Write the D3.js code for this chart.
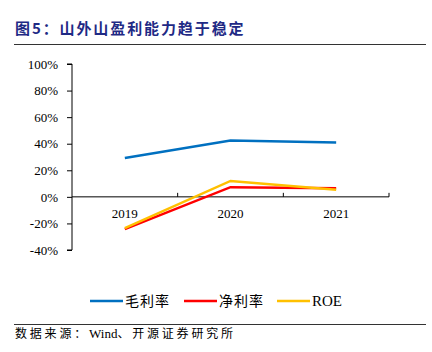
<!DOCTYPE html>
<html><head><meta charset="utf-8">
<script src="https://cdn.jsdelivr.net/npm/d3@7"></script>
<style>body{margin:0;background:#fff;}</style>
</head><body>
<svg id="c" width="432" height="352"></svg>
<script>
const categories = ["2019", "2020", "2021"];
const grossMargin = [29.3, 42.4, 40.9];
const netMargin = [-24.3, 7.3, 6.5];
const roe = [-23.6, 12.0, 5.3];
const yTicks = [-40, -20, 0, 20, 40, 60, 80, 100];
const seriesNames = ["毛利率", "净利率", "ROE"];
const seriesColors = ["#0070c0", "#ff0000", "#ffc000"];

const svg = d3.select("#c");
const serif = "'Liberation Serif','Times New Roman',serif";
const cjk = "'Noto Sans CJK SC',sans-serif";

svg.append("text").attr("x", 15).attr("y", 34)
  .style("font-family", cjk).attr("font-weight", "bold").attr("font-size", 15)
  .attr("letter-spacing", 1.9)
  .attr("fill", "#1f2a85").text("图5：山外山盈利能力趋于稳定");
svg.append("line").attr("x1", 14).attr("x2", 426).attr("y1", 44.5).attr("y2", 44.5)
  .attr("stroke", "#333").attr("stroke-width", 1);

const x = d3.scaleBand().domain(categories).range([72, 389]);
const y = d3.scaleLinear().domain([-40, 100]).range([250, 64]);

// y axis
const yAxis = svg.append("g").attr("transform", "translate(72,0)")
  .call(d3.axisLeft(y).tickValues(yTicks).tickSize(5).tickFormat(d => d + "%"));
yAxis.select(".domain").attr("stroke", "#000").attr("d", `M-5,${y(100)}H0V${y(-40)}H-5`);
yAxis.selectAll(".tick line").attr("stroke", "#000");
yAxis.selectAll(".tick text").style("font-family", serif).style("font-size", "13px").attr("fill", "#000").attr("x", -14);

// x axis at 0
const xAxis = svg.append("g").attr("transform", `translate(0,${y(0)})`)
  .call(d3.axisBottom(x).tickSize(0).tickPadding(12));
xAxis.select(".domain").attr("stroke", "#000").attr("d", `M72,0H389`);
xAxis.selectAll(".tick text").style("font-family", serif).style("font-size", "13px").attr("fill", "#000");
const bounds = categories.map(c => x(c)).concat([x(categories[categories.length-1]) + x.bandwidth()]);
xAxis.selectAll(".bt").data(bounds.slice(1)).enter().append("line")
  .attr("x1", d => d).attr("x2", d => d).attr("y1", 0).attr("y2", -4).attr("stroke", "#000");

const data = [grossMargin, netMargin, roe];
const line = d3.line().x((d, i) => x(categories[i]) + x.bandwidth() / 2).y(d => y(d));
data.forEach((s, k) => {
  svg.append("path").attr("d", line(s)).attr("fill", "none")
    .attr("stroke", seriesColors[k]).attr("stroke-width", 2.5);
});

// legend
const legX = [90, 184, 277];
seriesNames.forEach((n, k) => {
  svg.append("line").attr("x1", legX[k]).attr("x2", legX[k] + 33).attr("y1", 301).attr("y2", 301)
    .attr("stroke", seriesColors[k]).attr("stroke-width", 2.5);
  svg.append("text").attr("x", legX[k] + 35).attr("y", 306)
    .style("font-family", k === 2 ? serif : cjk).style("font-size", k === 2 ? "15px" : "14px")
    .attr("letter-spacing", k === 2 ? 0 : 1)
    .attr("fill", "#000").text(n);
});

svg.append("line").attr("x1", 14).attr("x2", 426).attr("y1", 324.5).attr("y2", 324.5)
  .attr("stroke", "#333").attr("stroke-width", 1);
const src = svg.append("text").attr("x", 15).attr("y", 338).attr("font-size", 12).attr("fill", "#000");
src.append("tspan").style("font-family", cjk).attr("letter-spacing", 2.8).text("数据来源：");
src.append("tspan").style("font-family", serif).style("font-size", "13px").text("Wind");
src.append("tspan").style("font-family", cjk).attr("letter-spacing", 2.8).text("、开源证券研究所");
</script>
</body></html>
